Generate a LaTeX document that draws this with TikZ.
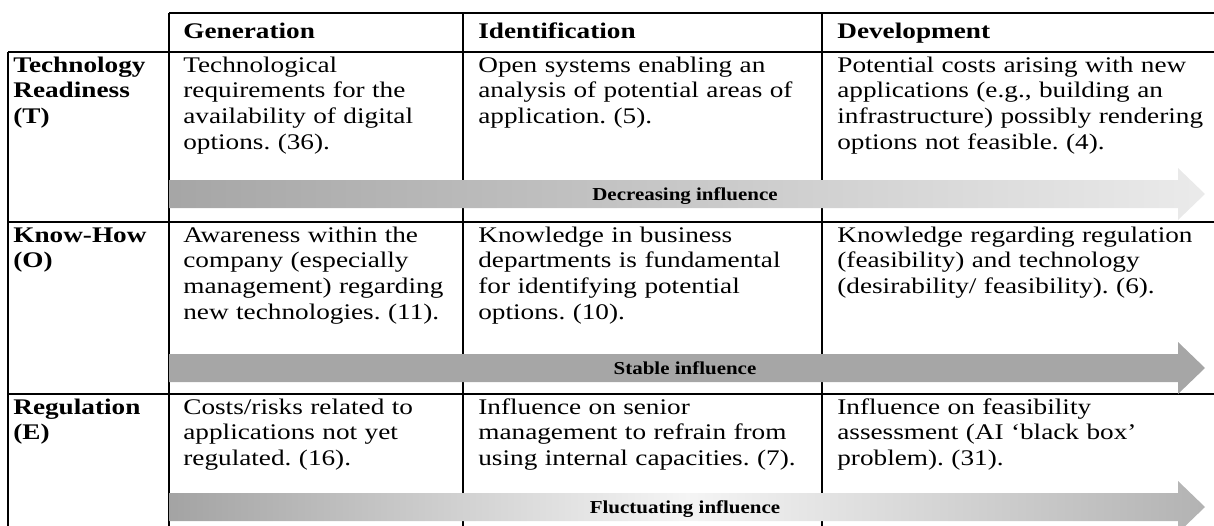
\documentclass[tikz,border=0pt]{standalone}
\usepackage{fontspec}
\setmainfont{Liberation Serif}[FakeStretch=1.22]
\newfontfamily\flowfont{Liberation Serif}[FakeStretch=1.15]
\frenchspacing

\begin{document}
\begin{tikzpicture}[x=0.5376pt,y=-0.5376pt,
  every node/.style={inner sep=0pt},
  cell/.style={anchor=base west,text width=250pt,align=left,
    font=\fontsize{12}{13.8}\selectfont},
  rowhead/.style={cell,font=\fontsize{12}{13.8}\selectfont\bfseries},
  flowlabel/.style={anchor=base,font=\fontsize{9.8}{11}\selectfont\flowfont\bfseries},
  rule/.style={line width=1.5pt}]
  \useasboundingbox (0,0) rectangle (1214,526);
  % table rules
  \draw[rule] (169,13)--(1214,13);
  \foreach \y in {52,222,394} \draw[rule] (8,\y)--(1214,\y);
  \draw[rule] (8,52)--(8,526);
  \foreach \x in {169,463,822} \draw[rule] (\x,13)--(\x,526);
  % header
  \path (183,38) node[rowhead] (gen) {Generation};
  \path (478,38) node[rowhead] (ident) {Identification};
  \path (837,38) node[rowhead] (dev) {Development};
  % row T
  \path (13,72) node[rowhead] (tech) {Technology\\Readiness\\(T)};
  \path (183,72) node[cell] (tgen) {Technological\\requirements for the\\availability of digital\\options. (36).};
  \path (478,72) node[cell] (tide) {Open systems enabling an\\analysis of potential areas of\\application. (5).};
  \path (837,72) node[cell] (tdev) {Potential costs arising with new\\applications (e.g., building an\\infrastructure) possibly rendering\\options not feasible. (4).};
  % row O
  \path (13,242) node[rowhead] (know) {Know-How\\(O)};
  \path (183,242) node[cell] (ogen) {Awareness within the\\company (especially\\management) regarding\\new technologies. (11).};
  \path (478,242) node[cell] (oide) {Knowledge in business\\departments is fundamental\\for identifying potential\\options. (10).};
  \path (837,242) node[cell] (odev) {Knowledge regarding regulation\\(feasibility) and technology\\(desirability/ feasibility). (6).};
  % row E
  \path (13,414) node[rowhead] (regu) {Regulation\\(E)};
  \path (183,414) node[cell] (egen) {Costs/risks related to\\applications not yet\\regulated. (16).};
  \path (478,414) node[cell] (eide) {Influence on senior\\management to refrain from\\using internal capacities. (7).};
  \path (837,414) node[cell] (edev) {Influence on feasibility\\assessment (AI ‘black box’\\problem). (31).};
  % influence arrows
  \path[left color=black!35,right color=black!8]
    (169,180)--(1178,180)--(1178,168)--(1205,194)--(1178,220)--(1178,208)--(169,208)--cycle;
  \path (685,200) node[flowlabel] (decr) {Decreasing influence};
  \path[fill=black!35]
    (169,354)--(1178,354)--(1178,342)--(1205,368)--(1178,394)--(1178,382)--(169,382)--cycle;
  \path (685,374) node[flowlabel] (stab) {Stable influence};
  \path[left color=black!36,right color=black!30,middle color=black!4]
    (169,493)--(1178,493)--(1178,481)--(1205,507)--(1178,533)--(1178,521)--(169,521)--cycle;
  \path (685,513) node[flowlabel] (fluct) {Fluctuating influence};
\end{tikzpicture}
\end{document}
